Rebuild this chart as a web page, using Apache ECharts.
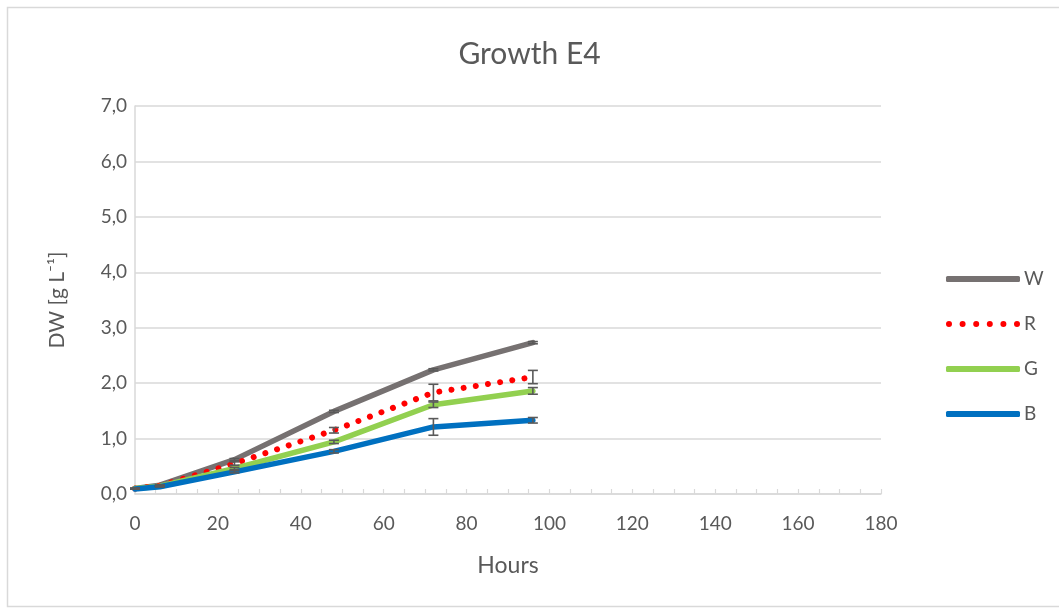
<!DOCTYPE html>
<html>
<head>
<meta charset="utf-8">
<title>Growth E4</title>
<script src="https://cdn.jsdelivr.net/npm/echarts@6/dist/echarts.min.js"></script>
<style>
  html, body { margin: 0; padding: 0; background: #ffffff; }
  #chart { width: 1059px; height: 610px; }
</style>
</head>
<body>
<div id="chart"></div>
<script>
// Sampling times (h)
const hours = [0, 6, 24, 48, 72, 96];

// Dry weight per light condition (g/L)
const seriesNames = ['W', 'R', 'G', 'B'];
const valuesW = [0.10, 0.16, 0.62, 1.49, 2.24, 2.73];
const valuesR = [0.10, 0.15, 0.55, 1.15, 1.83, 2.11];
const valuesG = [0.10, 0.14, 0.46, 0.94, 1.61, 1.86];
const valuesB = [0.09, 0.13, 0.40, 0.77, 1.21, 1.33];

// Standard deviations
const errW = [0.00, 0.00, 0.02, 0.02, 0.02, 0.02];
const errR = [0.00, 0.00, 0.03, 0.05, 0.15, 0.12];
const errG = [0.00, 0.00, 0.02, 0.03, 0.05, 0.06];
const errB = [0.00, 0.00, 0.02, 0.03, 0.15, 0.05];

const FONT = 'Lato';
const TEXT = '#595959';
const GRID = '#d9d9d9';

const colors = { W: '#767171', R: '#ff0000', G: '#92d050', B: '#0070c0' };
const values = { W: valuesW, R: valuesR, G: valuesG, B: valuesB };
const errors = { W: errW, R: errR, G: errG, B: errB };

// Legend glyphs: a solid bar, and a row of six dots for the dotted series
const ICON_BAR = 'roundRect';
const ICON_DOTS = (function () {
  const r = 3, n = 6, w = 74;
  let d = '';
  for (let i = 0; i < n; i++) {
    const cx = r + i * (w - 2 * r) / (n - 1);
    d += 'M' + (cx - r) + ',' + r + ' a' + r + ',' + r + ' 0 1,0 ' + (2 * r) + ',0 a' + r + ',' + r + ' 0 1,0 ' + (-2 * r) + ',0 Z ';
  }
  return 'path://' + d;
})();

function pairs(arr) {
  return hours.map((h, i) => [h, arr[i]]);
}

function lineSeries(name) {
  const dotted = name === 'R';
  return {
    name: name,
    type: 'line',
    data: pairs(values[name]),
    showSymbol: false,
    symbol: 'none',
    z: 2,
    lineStyle: dotted
      ? { color: colors[name], width: 6, type: [0.01, 12.3], cap: 'round' }
      : { color: colors[name], width: 5.5, cap: 'round', join: 'round' },
    itemStyle: { color: colors[name] },
    emphasis: { disabled: true }
  };
}

// Error bars with end caps, drawn through the axes
function errorSeries(name) {
  const v = values[name], e = errors[name];
  const data = hours.map((h, i) => [h, v[i] - e[i], v[i] + e[i]]);
  return {
    type: 'custom',
    name: name + ' err',
    data: data,
    z: 3,
    silent: true,
    renderItem: function (params, api) {
      const x = api.value(0);
      const lo = api.coord([x, api.value(1)]);
      const hi = api.coord([x, api.value(2)]);
      const half = 5;
      const style = { stroke: '#595959', lineWidth: 1.6, fill: null };
      return {
        type: 'group',
        children: [
          { type: 'line', shape: { x1: lo[0], y1: lo[1], x2: hi[0], y2: hi[1] }, style: style },
          { type: 'line', shape: { x1: lo[0] - half, y1: lo[1], x2: lo[0] + half, y2: lo[1] }, style: style },
          { type: 'line', shape: { x1: hi[0] - half, y1: hi[1], x2: hi[0] + half, y2: hi[1] }, style: style }
        ]
      };
    }
  };
}

const chart = echarts.init(document.getElementById('chart'), null, { renderer: 'canvas' });

chart.setOption({
  backgroundColor: '#ffffff',
  animation: false,
  textStyle: { fontFamily: FONT },
  graphic: [{
    type: 'rect',
    shape: { x: 7.5, y: 7.5, width: 1060, height: 599 },
    style: { fill: null, stroke: '#d9d9d9', lineWidth: 1.5 },
    silent: true,
    z: -10
  }],
  title: {
    text: 'Growth E4',
    left: 'center',
    top: 39,
    padding: 0,
    textStyle: { fontFamily: FONT, fontSize: 30, fontWeight: 'normal', color: TEXT }
  },
  legend: {
    orient: 'vertical',
    left: 941,
    top: 264,
    itemWidth: 74,
    itemHeight: 6,
    itemGap: 25,
    data: seriesNames.map(n => ({ name: n, icon: n === 'R' ? ICON_DOTS : ICON_BAR })),
    textStyle: { fontFamily: FONT, fontSize: 19, lineHeight: 20, color: TEXT, padding: [0, 0, 0, -1] },
    selectedMode: false
  },
  grid: { left: 135, right: 178, top: 106, bottom: 116, containLabel: false },
  xAxis: {
    type: 'value',
    min: 0,
    max: 180,
    interval: 20,
    name: 'Hours',
    nameLocation: 'middle',
    nameGap: 60,
    nameTextStyle: { fontFamily: FONT, fontSize: 23, color: TEXT },
    axisLine: { show: true, lineStyle: { color: GRID, width: 1.5 } },
    axisTick: { show: true, inside: true, length: 5, lineStyle: { color: GRID, width: 1.2 } },
    minorTick: { show: true, splitNumber: 4, length: 5, lineStyle: { color: GRID, width: 1.2 } },
    axisLabel: { fontFamily: FONT, fontSize: 19, color: TEXT, margin: 20 },
    splitLine: { show: false }
  },
  yAxis: {
    type: 'value',
    min: 0,
    max: 7,
    interval: 1,
    name: 'DW [g L⁻¹]',
    nameLocation: 'middle',
    nameGap: 67,
    nameTextStyle: { fontFamily: FONT, fontSize: 21, color: TEXT },
    axisLine: { show: true, lineStyle: { color: GRID, width: 1.5 } },
    axisTick: { show: false },
    axisLabel: {
      fontFamily: FONT, fontSize: 19, color: TEXT, margin: 8,
      formatter: v => v.toFixed(1).replace('.', ',')
    },
    splitLine: { show: true, lineStyle: { color: GRID, width: 1.5 } }
  },
  series: [
    lineSeries('W'), lineSeries('R'), lineSeries('G'), lineSeries('B'),
    errorSeries('W'), errorSeries('R'), errorSeries('G'), errorSeries('B')
  ]
});
</script>
</body>
</html>
